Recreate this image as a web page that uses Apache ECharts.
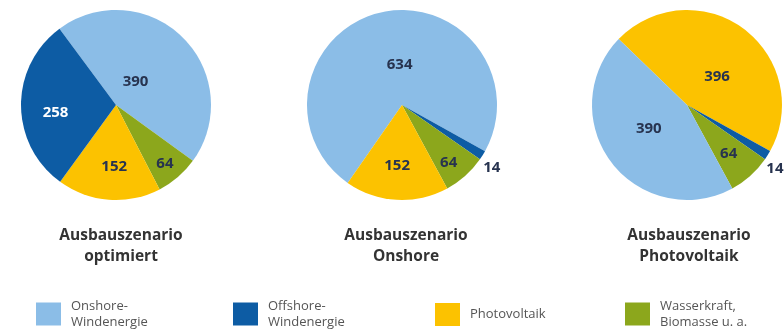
<!DOCTYPE html>
<html>
<head>
<meta charset="utf-8">
<script src="https://cdn.jsdelivr.net/npm/echarts@6/dist/echarts.min.js"></script>
<style>
  html, body { margin: 0; padding: 0; background: #ffffff; }
  #chart { width: 784px; height: 332px; }
</style>
</head>
<body>
<div id="chart"></div>
<script>
// Energy categories (legend order) and their colours
const categories = ['Onshore-\nWindenergie', 'Offshore-\nWindenergie', 'Photovoltaik', 'Wasserkraft,\nBiomasse u. a.'];
const categoryColors = ['#8bbde7', '#0d5ca4', '#fcc200', '#8ca71c'];

// Scenario titles
const scenarioTitles = ['Ausbauszenario\noptimiert', 'Ausbauszenario\nOnshore', 'Ausbauszenario\nPhotovoltaik'];

// Values per scenario, in category order: onshore, offshore, PV, hydro/biomass
const valuesOptimiert = [390, 258, 152, 64];
const valuesOnshore = [634, 14, 152, 64];
const valuesPhotovoltaik = [390, 14, 396, 64];

// Clockwise slice order per pie (indices into categories)
const sliceOrders = [[0, 3, 2, 1], [0, 1, 3, 2], [2, 1, 3, 0]];
const startAngles = [126.5, 235.1, 136];

// Per-slice label nudges and placement, keyed by category index
const labelTweaks = [
  { 0: { offset: [-16, 13] }, 1: { offset: [-10, 8], color: '#ffffff' }, 2: { offset: [2, 11] }, 3: { offset: [16, 20] } },
  { 0: { offset: [9, 9] }, 1: { outside: true, offset: [-6, 11] }, 2: { offset: [-2, 10] }, 3: { offset: [13, 20] } },
  { 0: { offset: [2, -7] }, 1: { outside: true, offset: [-8, 12] }, 2: { offset: [0, 12] }, 3: { offset: [8, 11] } }
];

const pieCentersX = [116, 402, 687];
const legendLefts = [36, 233, 435, 625];

const allValues = [valuesOptimiert, valuesOnshore, valuesPhotovoltaik];

const labelFont = "'Open Sans', 'DejaVu Sans', sans-serif";

const series = allValues.map((vals, p) => ({
  type: 'pie',
  center: [pieCentersX[p], 105],
  radius: [0, 95],
  startAngle: startAngles[p],
  clockwise: true,
  avoidLabelOverlap: false,
  silent: true,
  label: {
    show: true,
    position: 'inside',
    formatter: '{c}',
    color: '#27334f',
    fontSize: 15,
    fontWeight: 'bold',
    fontFamily: labelFont
  },
  labelLine: { show: false, length: 2, length2: 0 },
  itemStyle: { borderWidth: 0 },
  emphasis: { disabled: true },
  data: sliceOrders[p].map(ci => {
    const tw = labelTweaks[p][ci] || {};
    const label = { offset: tw.offset || [0, 0] };
    if (tw.color) label.color = tw.color;
    if (tw.outside) label.position = 'outside';
    return {
      name: categories[ci],
      value: vals[ci],
      itemStyle: { color: categoryColors[ci] },
      label: label,
      labelLine: { show: false }
    };
  })
}));

const titles = scenarioTitles.map((t, i) => ({
  text: t,
  left: [116, 401, 684][i],
  top: 220,
  textAlign: 'center',
  textStyle: {
    fontSize: 15.5,
    fontWeight: 'bold',
    color: '#333333',
    lineHeight: 21,
    fontFamily: labelFont
  }
}));

// Two-line legend entries sit a little higher than the single-line one
const legends = categories.map((c, i) => ({
  data: [c],
  left: legendLefts[i],
  top: i === 2 ? 303 : 298,
  padding: 0,
  orient: 'horizontal',
  icon: 'rect',
  itemWidth: 25,
  itemHeight: 23,
  selectedMode: false,
  textStyle: {
    fontSize: 13,
    color: '#555555',
    lineHeight: 16,
    padding: [0, 0, 0, 5],
    fontFamily: labelFont
  }
}));

const chart = echarts.init(document.getElementById('chart'), null, { renderer: 'canvas' });
chart.setOption({
  animation: false,
  backgroundColor: '#ffffff',
  title: titles,
  legend: legends,
  series: series
});
</script>
</body>
</html>
